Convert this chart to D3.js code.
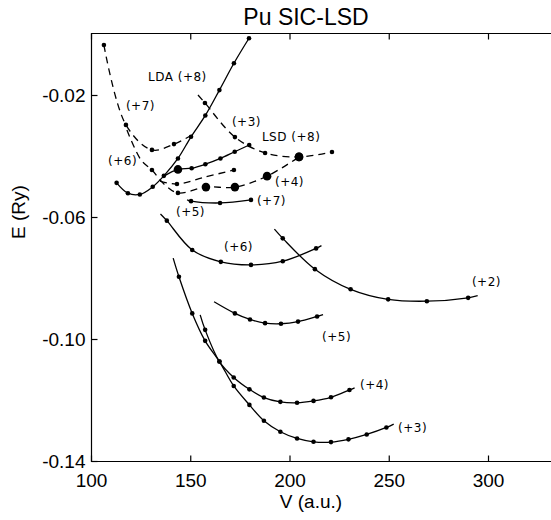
<!DOCTYPE html>
<html>
<head>
<meta charset="utf-8">
<script src="https://cdn.jsdelivr.net/npm/d3@7"></script>
<style>
  body { margin: 0; background: #fff; }
  svg { display: block; }
</style>
</head>
<body>
<div id="chart"></div>
<script>
// volumes (a.u.) and energies (Ry), one pair per curve
var vA  = [112.9, 118.6, 124.6, 131.1, 136.7, 143.8, 150.4, 157.6, 164.7, 172.0, 179.6];
var eA  = [-0.0488, -0.0522, -0.0526, -0.0501, -0.0465, -0.0408, -0.0337, -0.0267, -0.0184, -0.0096, -0.0014];

var vD7 = [106.5, 117.6, 130.7, 141.8, 150.9];
var eD7 = [-0.0036, -0.0298, -0.0380, -0.0361, -0.0331];

var vD4 = [118.1, 125.2, 130.7, 137.3, 143.8, 157.9, 172.5, 188.7, 204.8];
var eD4 = [-0.0315, -0.0413, -0.0446, -0.0495, -0.0521, -0.0502, -0.0502, -0.0466, -0.0403];

var vD6 = [134.8, 143.3, 157.4, 172.0];
var eD6 = [-0.0482, -0.0492, -0.0469, -0.0446];

var vD8 = [153.9, 157.4, 172.5, 187.7, 204.8, 221.4];
var eD8 = [-0.0200, -0.0226, -0.0338, -0.0390, -0.0403, -0.0387];

var vS3 = [136.8, 143.8, 150.7, 157.6, 165.2, 172.4, 179.7];
var eS3 = [-0.0466, -0.0444, -0.0440, -0.0427, -0.0408, -0.0386, -0.0364];

var vS7 = [148.4, 150.4, 165.0, 180.6];
var eS7 = [-0.0544, -0.0548, -0.0554, -0.0544];

var vS6 = [135.0, 138.2, 151.0, 165.4, 180.6, 196.6, 213.4, 216.1];
var eS6 = [-0.0590, -0.0612, -0.0708, -0.0747, -0.0757, -0.0745, -0.0703, -0.0694];

var vS2 = [192.4, 196.6, 212.8, 230.8, 249.7, 269.2, 290.0, 294.8];
var eS2 = [-0.0640, -0.0670, -0.0771, -0.0837, -0.0870, -0.0876, -0.0865, -0.0858];

var vS5 = [162.0, 172.5, 180.1, 187.7, 195.7, 204.3, 213.9, 216.9];
var eS5 = [-0.0878, -0.0916, -0.0936, -0.0948, -0.0950, -0.0943, -0.0926, -0.0920];

var vS3b = [141.4, 144.3, 151.0, 157.5, 164.7, 171.9, 179.8, 187.1, 195.4, 203.8, 212.1, 220.9, 229.7, 238.9, 248.8, 252.5];
var eS3b = [-0.0735, -0.0796, -0.0916, -0.1006, -0.1074, -0.1154, -0.1216, -0.1268, -0.1304, -0.1326, -0.1337, -0.1338, -0.1329, -0.1313, -0.1290, -0.1279];

var vS4 = [155.0, 157.5, 164.7, 171.9, 179.8, 187.1, 195.4, 203.8, 212.1, 220.9, 230.2, 232.8];
var eS4 = [-0.0921, -0.0970, -0.1074, -0.1126, -0.1165, -0.1192, -0.1206, -0.1209, -0.1203, -0.1191, -0.1167, -0.1160];

var xTicks = [100, 150, 200, 250, 300];
var yTicks = [-0.02, -0.06, -0.10, -0.14];

var labelText = ["LDA (+8)", "(+7)", "(+3)", "LSD (+8)", "(+6)", "(+4)", "(+7)", "(+5)", "(+6)", "(+2)", "(+5)", "(+4)", "(+3)"];
var labelV    = [128.7, 117.6, 171.0, 186.1, 108.6, 192.7, 183.6, 142.8, 167.0, 291.9, 216.4, 235.5, 254.7];
var labelE    = [-0.0154, -0.0249, -0.0302, -0.0351, -0.0430, -0.0498, -0.0561, -0.0597, -0.0711, -0.0826, -0.1007, -0.1164, -0.1305];

function init() {
    var w = 551;
    var h = 520;

    var x = d3.scaleLinear().domain([100, 300]).range([91, 488]);
    var y = d3.scaleLinear().domain([-0.14, 0]).range([461, 34]);

    var svg = d3.select("#chart")
        .append("svg")
        .attr("width", w)
        .attr("height", h);

    // curves: which points carry no marker (ends) and which carry a big one
    var curves = [
        { v: vA,   e: eA,   dash: false, skip: [],       big: [] },
        { v: vD7,  e: eD7,  dash: true,  skip: [4],      big: [] },
        { v: vD4,  e: eD4,  dash: true,  skip: [0, 1, 3], big: [5, 6, 7, 8] },
        { v: vD6,  e: eD6,  dash: true,  skip: [0, 2],   big: [] },
        { v: vD8,  e: eD8,  dash: true,  skip: [0],      big: [4] },
        { v: vS3,  e: eS3,  dash: false, skip: [0],      big: [1] },
        { v: vS7,  e: eS7,  dash: false, skip: [0],      big: [] },
        { v: vS6,  e: eS6,  dash: false, skip: [0, 7],   big: [] },
        { v: vS2,  e: eS2,  dash: false, skip: [0, 7],   big: [] },
        { v: vS5,  e: eS5,  dash: false, skip: [0, 7],   big: [] },
        { v: vS3b, e: eS3b, dash: false, skip: [0, 15],  big: [] },
        { v: vS4,  e: eS4,  dash: false, skip: [0, 11],  big: [] }
    ];

    var line = d3.line()
        .x(function(d) { return x(d[0]); })
        .y(function(d) { return y(d[1]); })
        .curve(d3.curveCatmullRom.alpha(0.5));

    var g = svg.append("g");

    curves.forEach(function(c) {
        var pts = c.v.map(function(v, i) { return [v, c.e[i]]; });
        g.append("path")
            .attr("d", line(pts))
            .attr("fill", "none")
            .attr("stroke", "#000")
            .attr("stroke-width", 1.3)
            .attr("stroke-dasharray", c.dash ? "7,5" : null);

        g.selectAll(null)
            .data(pts.filter(function(d, i) { return c.skip.indexOf(i) < 0; }))
            .enter()
            .append("circle")
            .attr("cx", function(d) { return x(d[0]); })
            .attr("cy", function(d) { return y(d[1]); })
            .attr("r", function(d) { return c.big.indexOf(pts.indexOf(d)) >= 0 ? 4.3 : 2.3; })
            .attr("fill", "#000");
    });

    // curve labels
    svg.selectAll(".lbl")
        .data(labelText)
        .enter()
        .append("text")
        .attr("x", function(d, i) { return x(labelV[i]); })
        .attr("y", function(d, i) { return y(labelE[i]); })
        .style("font-family", "'DejaVu Sans', sans-serif")
        .style("font-size", "12px")
        .style("letter-spacing", "0.5px")
        .text(function(d) { return d; });

    // frame, right side runs off the picture
    svg.append("path")
        .attr("d", "M560,33.5H91.5V461.5H560")
        .attr("fill", "none")
        .attr("stroke", "#000")
        .attr("stroke-width", 1.2);

    svg.append("g")
        .attr("transform", "translate(0,461.5)")
        .call(d3.axisBottom(x).tickValues(xTicks).tickSizeInner(-6).tickSizeOuter(0).tickPadding(12));
    svg.append("g")
        .attr("transform", "translate(0,33.5)")
        .call(d3.axisTop(x).tickValues(xTicks).tickSizeInner(-6).tickSizeOuter(0).tickFormat(""));
    svg.append("g")
        .attr("transform", "translate(91.5,0)")
        .call(d3.axisLeft(y).tickValues(yTicks).tickSizeInner(-6).tickSizeOuter(0).tickPadding(6)
            .tickFormat(function(d) { return d.toFixed(2); }));

    svg.selectAll(".domain").remove();
    svg.selectAll(".tick line").attr("stroke", "#000").attr("stroke-width", 1.2);
    svg.selectAll(".tick text")
        .attr("fill", "#000")
        .style("font-family", "'Liberation Sans', Arial, sans-serif")
        .style("font-size", "19px");

    svg.append("text")
        .attr("x", 306)
        .attr("y", 25)
        .attr("text-anchor", "middle")
        .style("font-family", "'Liberation Sans', Arial, sans-serif")
        .style("font-size", "23px")
        .text("Pu SIC-LSD");

    svg.append("text")
        .attr("x", 311)
        .attr("y", 508)
        .attr("text-anchor", "middle")
        .style("font-family", "'Liberation Sans', Arial, sans-serif")
        .style("font-size", "19px")
        .text("V (a.u.)");

    svg.append("text")
        .attr("transform", "translate(25,212) rotate(-90)")
        .attr("text-anchor", "middle")
        .style("font-family", "'Liberation Sans', Arial, sans-serif")
        .style("font-size", "19px")
        .text("E (Ry)");
}

window.onload = init;
</script>
</body>
</html>
